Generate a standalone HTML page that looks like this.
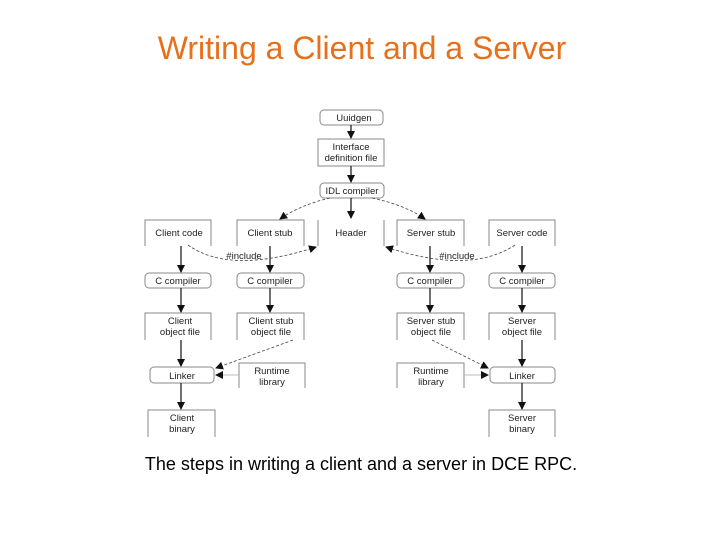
<!DOCTYPE html>
<html><head><meta charset="utf-8"><style>
body{margin:0;width:720px;height:540px;background:#fff;font-family:"Liberation Sans",sans-serif;position:relative;overflow:hidden}
.t{position:absolute;left:2px;width:720px;text-align:center;top:30px;font-size:32px;color:#e8701a}
.c{position:absolute;left:1px;width:720px;text-align:center;top:454px;font-size:18px;color:#000}
</style></head><body>
<div class="t">Writing a Client and a Server</div>
<svg width="720" height="540" style="position:absolute;left:0;top:0" font-family="Liberation Sans, sans-serif" font-size="9.5" fill="#222">
<defs><marker id="a" markerWidth="8" markerHeight="8" refX="7" refY="4" orient="auto" markerUnits="userSpaceOnUse"><path d="M0,0 L8,4 L0,8z" fill="#111"/></marker></defs>
<g fill="none" stroke="#888" stroke-width="1">
<rect x="320" y="110" width="63" height="15" rx="4"/>
<rect x="318" y="139" width="66" height="27"/>
<rect x="320" y="183" width="64" height="15" rx="4"/>
<path d="M145,246V220H211V246M237,246V220H304V246M318,246V220M384,220V246M397,246V220H464V246M489,246V220H555V246"/>
<rect x="145" y="273" width="66" height="15" rx="4"/><rect x="237" y="273" width="67" height="15" rx="4"/>
<rect x="397" y="273" width="67" height="15" rx="4"/><rect x="489" y="273" width="66" height="15" rx="4"/>
<path d="M145,340V313H211V340M237,340V313H304V340M397,340V313H464V340M489,340V313H555V340"/>
<rect x="150" y="367" width="64" height="16" rx="4"/><rect x="490" y="367" width="65" height="16" rx="4"/>
<path d="M239,388V363H305V388M397,388V363H464V388"/>
<path d="M148,437V410H215V437M489,437V410H555V437"/>
</g>
<g stroke="#111" stroke-width="1.2" fill="none" marker-end="url(#a)">
<path d="M351,125V138"/><path d="M351,166V182"/><path d="M351,198V218"/>
<path d="M181,246V272"/><path d="M270,246V272"/><path d="M430,246V272"/><path d="M522,246V272"/>
<path d="M181,288V312"/><path d="M270,288V312"/><path d="M430,288V312"/><path d="M522,288V312"/>
<path d="M181,340V366"/><path d="M522,340V366"/>
<path d="M181,383V409"/><path d="M522,383V409"/>
</g>
<g stroke="#444" stroke-width="0.8" fill="none" stroke-dasharray="3,2" marker-end="url(#a)">
<path d="M330,198Q300,205 280,219"/><path d="M372,198Q405,205 425,219"/>
<path d="M188,245Q230,275 316,247"/><path d="M515,245Q470,275 386,247"/>
<path d="M293,340L216,368"/><path d="M432,340L488,368"/>
</g>
<g stroke="#bbb" stroke-width="1" fill="none" marker-end="url(#a)">
<path d="M239,375H216"/><path d="M464,375H488"/>
</g>
<g text-anchor="middle">
<text x="354" y="121">Uuidgen</text>
<text x="351" y="150">Interface</text><text x="351" y="161">definition file</text>
<text x="352" y="194">IDL compiler</text>
<text x="179" y="236">Client code</text><text x="270" y="236">Client stub</text><text x="351" y="236">Header</text><text x="431" y="236">Server stub</text><text x="522" y="236">Server code</text>
<text x="244" y="259">#include</text><text x="457" y="259">#include</text>
<text x="178" y="284">C compiler</text><text x="270" y="284">C compiler</text><text x="430" y="284">C compiler</text><text x="522" y="284">C compiler</text>
<text x="180" y="324">Client</text><text x="180" y="335">object file</text>
<text x="271" y="324">Client stub</text><text x="271" y="335">object file</text>
<text x="431" y="324">Server stub</text><text x="431" y="335">object file</text>
<text x="522" y="324">Server</text><text x="522" y="335">object file</text>
<text x="182" y="379">Linker</text><text x="522" y="379">Linker</text>
<text x="272" y="374">Runtime</text><text x="272" y="385">library</text>
<text x="431" y="374">Runtime</text><text x="431" y="385">library</text>
<text x="182" y="421">Client</text><text x="182" y="432">binary</text>
<text x="522" y="421">Server</text><text x="522" y="432">binary</text>
</g>
</svg>
<div class="c">The steps in writing a client and a server in DCE RPC.</div>
</body></html>
